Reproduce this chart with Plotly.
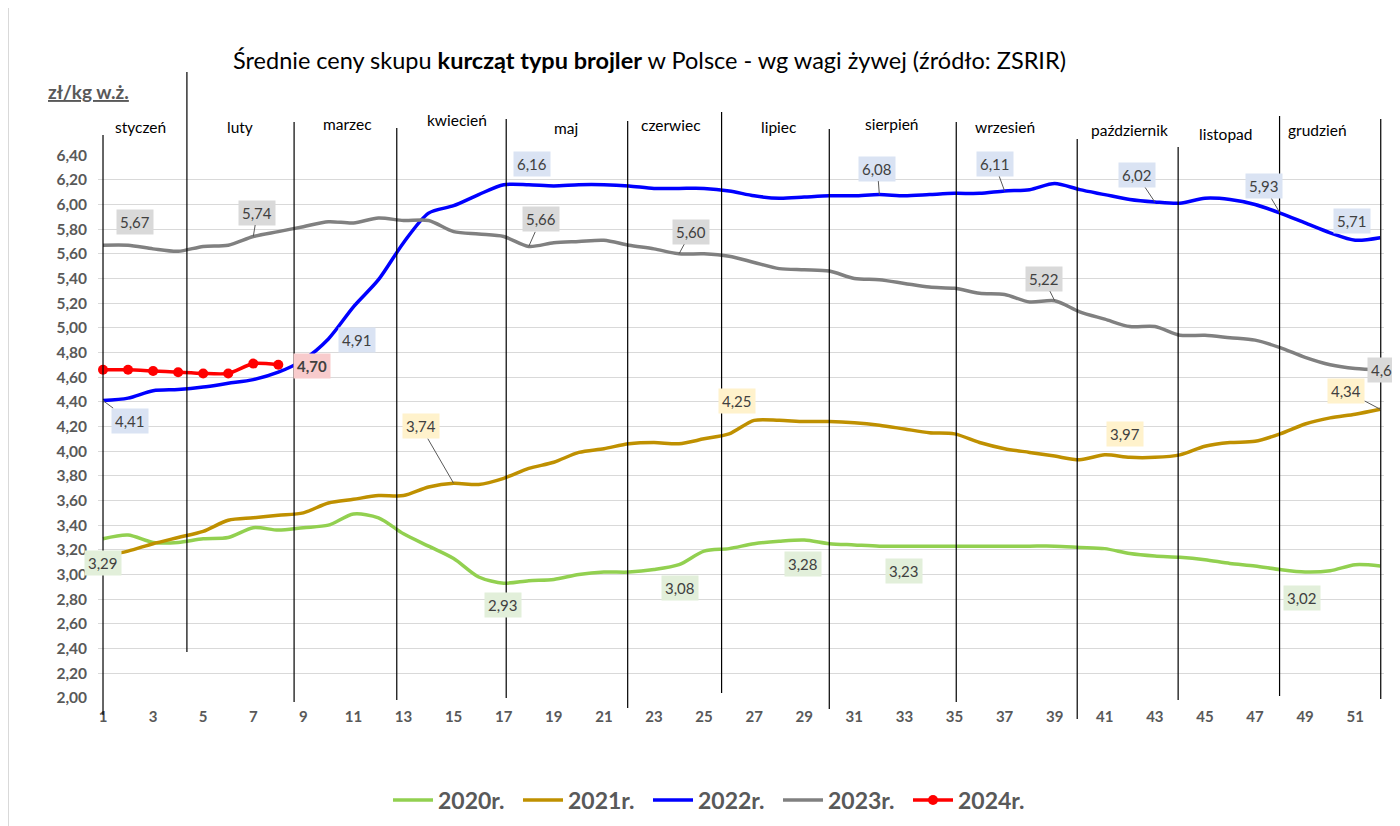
import plotly.graph_objects as go

# ---------------- data ----------------
weeks = list(range(1, 53))
weeks_2024 = list(range(1, 9))

y2020 = [3.29, 3.32, 3.26, 3.26, 3.29, 3.30, 3.38, 3.36, 3.38, 3.40,
         3.49, 3.46, 3.33, 3.23, 3.13, 2.98, 2.93, 2.95, 2.96, 3.00,
         3.02, 3.02, 3.04, 3.08, 3.19, 3.21, 3.25, 3.27, 3.28, 3.25,
         3.24, 3.23, 3.23, 3.23, 3.23, 3.23, 3.23, 3.23, 3.23, 3.22,
         3.21, 3.17, 3.15, 3.14, 3.12, 3.09, 3.07, 3.04, 3.02, 3.03,
         3.08, 3.07]
y2021 = [3.15, 3.19, 3.25, 3.30, 3.35, 3.44, 3.46, 3.48, 3.50, 3.58,
         3.61, 3.64, 3.64, 3.71, 3.74, 3.73, 3.78, 3.86, 3.91, 3.99,
         4.02, 4.06, 4.07, 4.06, 4.10, 4.14, 4.25, 4.25, 4.24, 4.24,
         4.23, 4.21, 4.18, 4.15, 4.14, 4.07, 4.02, 3.99, 3.96, 3.93,
         3.97, 3.95, 3.95, 3.97, 4.04, 4.07, 4.08, 4.14, 4.22, 4.27,
         4.30, 4.34]
y2022 = [4.41, 4.43, 4.49, 4.50, 4.52, 4.55, 4.58, 4.64, 4.74, 4.91,
         5.17, 5.39, 5.69, 5.93, 5.99, 6.08, 6.16, 6.16, 6.15, 6.16,
         6.16, 6.15, 6.13, 6.13, 6.13, 6.11, 6.07, 6.05, 6.06, 6.07,
         6.07, 6.08, 6.07, 6.08, 6.09, 6.09, 6.11, 6.12, 6.17, 6.12,
         6.08, 6.04, 6.02, 6.01, 6.05, 6.04, 6.00, 5.93, 5.85, 5.77,
         5.71, 5.73]
y2023 = [5.67, 5.67, 5.64, 5.62, 5.66, 5.67, 5.74, 5.78, 5.82, 5.86,
         5.85, 5.89, 5.87, 5.87, 5.78, 5.76, 5.74, 5.66, 5.69, 5.70,
         5.71, 5.67, 5.64, 5.60, 5.60, 5.58, 5.53, 5.48, 5.47, 5.46,
         5.40, 5.39, 5.36, 5.33, 5.32, 5.28, 5.27, 5.21, 5.22, 5.13,
         5.07, 5.01, 5.01, 4.94, 4.94, 4.92, 4.90, 4.84, 4.76, 4.70,
         4.67, 4.66]
y2024 = [4.66, 4.66, 4.65, 4.64, 4.63, 4.63, 4.71, 4.70]

series_names = ["2020r.", "2021r.", "2022r.", "2023r.", "2024r."]

month_names = ["styczeń", "luty", "marzec", "kwiecień", "maj", "czerwiec",
               "lipiec", "sierpień", "wrzesień", "październik", "listopad", "grudzień"]

# labelled points: (series, week)
label_points = [
    ("2023r.", 1), ("2023r.", 7), ("2023r.", 18), ("2023r.", 24), ("2023r.", 39), ("2023r.", 52),
    ("2022r.", 1), ("2022r.", 10), ("2022r.", 18), ("2022r.", 32), ("2022r.", 37),
    ("2022r.", 43), ("2022r.", 48), ("2022r.", 51),
    ("2024r.", 8),
    ("2021r.", 15), ("2021r.", 27), ("2021r.", 41), ("2021r.", 52),
    ("2020r.", 1), ("2020r.", 17), ("2020r.", 24), ("2020r.", 29), ("2020r.", 33), ("2020r.", 49),
]

# ---------------- styling ----------------
FONT = "Lato"
colors = {"2020r.": "#92d050", "2021r.": "#bf9000", "2022r.": "#0000ff",
          "2023r.": "#808080", "2024r.": "#ff0000"}
label_bg = {"2020r.": "#e2efda", "2021r.": "#fff2cc", "2022r.": "#dae3f3",
            "2023r.": "#d9d9d9", "2024r.": "#f8cbcc"}
# label offsets in pixels (dx, dy: screen, y down) and leader-line flag
label_style = [
    (32, -23, False), (4, -24, True), (12, -27, True), (12, -22, True), (-11, -22, True), (6, 0, False),
    (27, 20, True), (29, 1, False), (3, -21, False), (-2, -26, True), (-10, -27, True),
    (-18, -27, True), (-16, -27, True), (-3, -19, False),
    (34, 1, False),
    (-33, -57, True), (-17, -19, False), (20, -21, False), (-34, -18, True),
    (0, 24, False), (-1, 22, False), (1, 23, False), (-1, 24, False), (0, 25, False), (-3, 26, False),
]

# month separator lines: week position, top pixel, bottom pixel (page pixels)
month_lines = [(1.0, 135, 715), (4.35, 72, 652), (8.63, 122, 702), (12.73, 128, 700),
               (17.1, 119, 698), (21.95, 121, 708), (25.7, 112, 693), (30.0, 129, 709),
               (35.07, 122, 702), (39.9, 139, 719), (43.93, 147, 700), (47.98, 116, 696),
               (52.02, 119, 699)]
# month label positions: week centre, page pixel y
month_label_pos = [(2.48, 127), (6.48, 127), (10.76, 124), (15.12, 120), (19.48, 128),
                   (23.68, 125), (28.0, 127), (32.52, 124), (37.0, 127), (42.0, 130),
                   (45.84, 134), (49.48, 130)]

OFF = 8  # page body margin
W, H = 1400 - OFF, 826 - OFF
M_L, M_R, M_T, M_B = 90, 16, 147, 128
PLOT_H = H - M_T - M_B
PLOT_W = W - M_L - M_R


def py_to_paper(py):
    return (H - M_B - (py - OFF)) / PLOT_H


def px_to_paper(px):
    return ((px - OFF) - M_L) / PLOT_W


data = {"2020r.": (weeks, y2020), "2021r.": (weeks, y2021), "2022r.": (weeks, y2022),
        "2023r.": (weeks, y2023), "2024r.": (weeks_2024, y2024)}

fig = go.Figure()
for name in series_names:
    xs, ys = data[name]
    if name == "2024r.":
        fig.add_trace(go.Scatter(x=xs, y=ys, name=f"<b>{name}</b>", mode="lines+markers",
                                 line=dict(color=colors[name], width=3.5, shape="spline", smoothing=0.6),
                                 marker=dict(size=10, color=colors[name])))
    else:
        fig.add_trace(go.Scatter(x=xs, y=ys, name=f"<b>{name}</b>", mode="lines",
                                 line=dict(color=colors[name], width=3.5, shape="spline", smoothing=0.8)))

# month separators
for wk, top, bot in month_lines:
    fig.add_shape(type="line", xref="x", yref="paper", x0=wk, x1=wk,
                  y0=py_to_paper(bot), y1=py_to_paper(top),
                  line=dict(color="#000000", width=1.2), layer="above")

# left border of chart area
fig.add_shape(type="line", xref="paper", yref="paper",
              x0=px_to_paper(8.5), x1=px_to_paper(8.5),
              y0=py_to_paper(H + OFF), y1=py_to_paper(OFF),
              line=dict(color="#d9d9d9", width=1))

annotations = []
for mname, (wk, py) in zip(month_names, month_label_pos):
    annotations.append(dict(x=wk, y=py_to_paper(py), xref="x", yref="paper", text=mname,
                            showarrow=False, xanchor="center", yanchor="middle",
                            font=dict(family=FONT, size=15.5, color="#000000")))

for (name, wk), (dx, dy, leader) in zip(label_points, label_style):
    xs, ys = data[name]
    v = ys[xs.index(wk)]
    txt = f"{v:.2f}".replace(".", ",")
    if name == "2024r.":
        txt = f"<b>{txt}</b>"
    common = dict(x=wk, y=v, xref="x", yref="y", text=txt, bgcolor=label_bg[name],
                  borderpad=3, font=dict(family=FONT, size=15, color="#404040"))
    if leader:
        annotations.append(dict(**common, showarrow=True, ax=dx, ay=dy, arrowhead=0,
                                arrowwidth=1, arrowcolor="#595959", standoff=0))
    else:
        annotations.append(dict(**common, showarrow=False, xshift=dx, yshift=-dy))

# title and unit label (page pixel positions)
annotations.append(dict(x=px_to_paper(649), y=py_to_paper(60), xref="paper", yref="paper",
                        showarrow=False,
                        text="Średnie ceny skupu <b>kurcząt typu brojler</b> w Polsce - wg wagi żywej (źródło: ZSRIR)",
                        font=dict(family=FONT, size=23.5, color="#000000"),
                        xanchor="center", yanchor="middle"))
annotations.append(dict(x=px_to_paper(88), y=py_to_paper(92), xref="paper", yref="paper",
                        showarrow=False, text="<b><u>zł/kg w.ż.</u></b>",
                        font=dict(family=FONT, size=19, color="#595959"),
                        xanchor="center", yanchor="middle"))

fig.update_layout(
    width=W, height=H,
    margin=dict(l=M_L, r=M_R, t=M_T, b=M_B, autoexpand=False),
    paper_bgcolor="white", plot_bgcolor="white",
    separators=", ",
    font=dict(family=FONT, color="#595959"),
    annotations=annotations,
    showlegend=True,
    legend=dict(orientation="h", x=px_to_paper(388), xanchor="left", y=py_to_paper(800), yanchor="middle",
                font=dict(family=FONT, size=23, color="#595959"),
                entrywidth=75, itemwidth=40, traceorder="normal"),
)
fig.update_xaxes(range=[0.8, 52.15], tickmode="array", tickvals=list(range(1, 53, 2)),
                 showgrid=False, zeroline=False, showline=False,
                 tickfont=dict(family=FONT, size=15, color="#595959", weight="bold"),
                 ticks="", ticklabelstandoff=8)
fig.update_yaxes(range=[1.999, 6.401], dtick=0.2, tick0=2.0, tickformat=".2f",
                 showgrid=True, gridcolor="#d9d9d9", gridwidth=1.2, zeroline=False, showline=False,
                 tickfont=dict(family=FONT, size=15.5, color="#595959", weight="bold"),
                 ticks="", ticklabelstandoff=10)

fig.write_html("out.html")
